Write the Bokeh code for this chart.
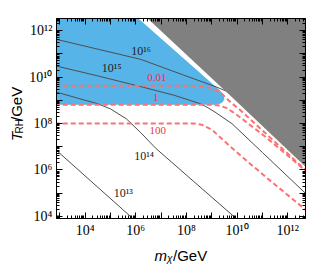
import numpy as np
from bokeh.plotting import figure
from bokeh.layouts import column, row
from bokeh.models import Range1d, LogAxis, FixedTicker, Label
from bokeh.embed import file_html
from bokeh.resources import INLINE

# ---- axis extents (log10) ----
x_lo, x_hi = 2.87, 12.70
y_lo, y_hi = 3.91, 12.52

# ---- tick labels ----
tick_exps = [2, 3, 4, 5, 6, 7, 8, 9, 10, 11, 12, 13]
tick_labels = ["", "", "10⁴", "", "10⁶", "", "10⁸", "", "10¹⁰", "", "10¹²", ""]

# ---- regions (log10 m, log10 T) ----
blue_logm = [2.80, 5.50, 9.10, 9.30, 9.45, 9.50, 9.44, 9.28, 9.10, 2.80]
blue_logT = [13.10, 13.10, 9.64, 9.45, 9.26, 9.07, 8.92, 8.83, 8.81, 8.81]

gray_logm = [5.90, 9.80, 12.80, 13.50, 13.50]
gray_logT = [13.10, 9.13, 6.03, 5.30, 13.50]

# ---- solid curves labelled by 10^13..10^16 ----
line16_logm = [2.80, 4.50, 6.20, 7.85, 9.21, 9.60, 10.20]
line16_logT = [11.64, 11.20, 10.76, 10.10, 9.56, 9.38, 8.90]

line15_logm = [2.80, 4.50, 6.29, 7.50, 8.55, 8.80, 9.13, 9.80, 11.00, 12.80]
line15_logT = [10.49, 10.05, 9.56, 9.22, 8.85, 8.71, 8.49, 7.99, 6.75, 4.89]

line14_logm = [2.80, 4.00, 4.47, 5.00, 5.63, 6.20, 6.80, 9.91, 10.10]
line14_logT = [9.37, 9.00, 8.86, 8.63, 8.20, 7.60, 6.92, 3.96, 3.78]

line13_logm = [2.80, 5.83, 6.00]
line13_logT = [6.91, 3.96, 3.79]

# ---- dashed curves 0.01, 1, 100 ----
d001_logm = [2.80, 8.40, 8.71, 9.00, 9.33, 9.80, 10.07, 11.00, 12.80]
d001_logT = [9.62, 9.62, 9.59, 9.52, 9.35, 8.86, 8.63, 7.70, 5.90]

d1_logm = [2.80, 9.00, 9.30, 9.60, 9.85, 10.20, 10.60, 11.00, 11.50, 12.80]
d1_logT = [8.81, 8.81, 8.77, 8.66, 8.48, 8.20, 7.86, 7.53, 7.08, 5.88]

d100_logm = [2.80, 8.30, 8.60, 9.02, 9.68, 10.50, 11.35, 12.80]
d100_logT = [8.00, 8.00, 7.95, 7.72, 7.06, 6.28, 5.50, 4.20]

# ---- annotation texts and positions (log10 m, log10 T) ----
solid_texts = ["10¹⁶", "10¹⁵", "10¹⁴", "10¹³"]
solid_text_m = [6.21, 5.05, 6.33, 5.51]
solid_text_T = [11.14, 10.41, 6.62, 4.99]
dash_texts = ["0.01", "1", "100"]
dash_text_m = [6.83, 6.79, 6.87]
dash_text_T = [9.98, 9.12, 7.70]

# ---- layout sizes (pixels) ----
YT_W = 26          # width of the strip holding the y title
MAIN_W, MAIN_H = 282, 240
XT_H = 24          # height of the strip holding the x title


def p10(a):
    return (10.0 ** np.asarray(a, dtype=float)).tolist()


p = figure(width=MAIN_W, height=MAIN_H, x_axis_type="log", y_axis_type="log",
           x_range=Range1d(10 ** x_lo, 10 ** x_hi),
           y_range=Range1d(10 ** y_lo, 10 ** y_hi),
           output_backend="svg", toolbar_location=None,
           min_border_left=26, min_border_right=3,
           min_border_top=18, min_border_bottom=22)
p.grid.visible = False
p.outline_line_color = "black"
p.outline_line_width = 1
p.background_fill_color = "white"
p.border_fill_color = "white"

BLUE = "#56b4e9"
GRAY = "#808080"
RED = "#ff7070"
LINE = "#4d4d4d"

p.patch(p10(blue_logm), p10(blue_logT), fill_color=BLUE, line_color=None)

for lm, lt in [(line16_logm, line16_logT), (line15_logm, line15_logT),
               (line14_logm, line14_logT), (line13_logm, line13_logT)]:
    p.line(p10(lm), p10(lt), line_color=LINE, line_width=1)

for lm, lt in [(d001_logm, d001_logT), (d1_logm, d1_logT), (d100_logm, d100_logT)]:
    p.line(p10(lm), p10(lt), line_color=RED, line_width=2, line_dash="5 3")

p.patch(p10(gray_logm), p10(gray_logT), fill_color=GRAY, line_color=None)

for t, m, T in zip(solid_texts, solid_text_m, solid_text_T):
    p.add_layout(Label(x=10 ** m, y=10 ** T, text=t, text_align="center",
                       text_baseline="middle", text_font="Liberation Serif",
                       text_font_size="12px", text_color="#222222"))
for t, m, T in zip(dash_texts, dash_text_m, dash_text_T):
    p.add_layout(Label(x=10 ** m, y=10 ** T, text=t, text_align="center",
                       text_baseline="middle", text_font="Liberation Serif",
                       text_font_size="11px", text_color="#e8353f"))

# ---- ticks ----
major = [10.0 ** e for e in tick_exps]
minor = [j * 10.0 ** e for e in tick_exps for j in range(2, 10)]
overrides = {10.0 ** e: lab for e, lab in zip(tick_exps, tick_labels)}
blank = {10.0 ** e: "" for e in tick_exps}


def style_axis(ax, labels):
    ax.ticker = FixedTicker(ticks=major, minor_ticks=minor)
    ax.major_tick_in = 6
    ax.major_tick_out = 0
    ax.minor_tick_in = 3
    ax.minor_tick_out = 0
    ax.axis_line_color = "black"
    ax.major_tick_line_color = "black"
    ax.minor_tick_line_color = "black"
    if labels:
        ax.major_label_overrides = overrides
        ax.major_label_text_font = "Liberation Serif"
        ax.major_label_text_font_size = "14px"
        ax.major_label_text_color = "black"
        ax.major_label_standoff = 4
    else:
        ax.major_label_overrides = blank
        ax.major_label_text_font_size = "1px"
        ax.major_label_standoff = 0


style_axis(p.xaxis[0], True)
style_axis(p.yaxis[0], True)
top = LogAxis()
right = LogAxis()
style_axis(top, False)
style_axis(right, False)
p.add_layout(top, "above")
p.add_layout(right, "right")


# ---- axis titles: small companion figures, coordinates in pixels ----
def blank_fig(w, h):
    f = figure(width=w, height=h, x_range=Range1d(0, w), y_range=Range1d(0, h),
               x_axis_location=None, y_axis_location=None,
               output_backend="svg", toolbar_location=None, min_border=0)
    f.grid.visible = False
    f.outline_line_color = None
    f.background_fill_color = "white"
    f.border_fill_color = "white"
    return f


SANS = "Liberation Sans"


def piece(fig, txt, px, py, size, italic=False, angle=0.0):
    # px, py: pixels from the figure's top-left corner
    fig.add_layout(Label(x=px, y=fig.height - py, text=txt, angle=angle,
                         text_font=SANS, text_font_size=size,
                         text_font_style="italic" if italic else "normal",
                         text_align="left", text_baseline="alphabetic",
                         text_color="black"))


yfig = blank_fig(YT_W, MAIN_H)
ang = np.pi / 2
piece(yfig, "T", 16, 147, "15px", italic=True, angle=ang)
piece(yfig, "RH", 19, 138, "10px", angle=ang)
piece(yfig, "/GeV", 16, 123, "15px", angle=ang)

xfig = blank_fig(YT_W + MAIN_W, XT_H)
piece(xfig, "m", 154, 15, "15px", italic=True)
piece(xfig, "χ", 166.5, 18, "10px", italic=True)
piece(xfig, "/GeV", 172.5, 15, "15px")

layout = column(row(yfig, p, spacing=0), xfig, spacing=0)

open("out.html", "w").write(file_html(layout, INLINE))
